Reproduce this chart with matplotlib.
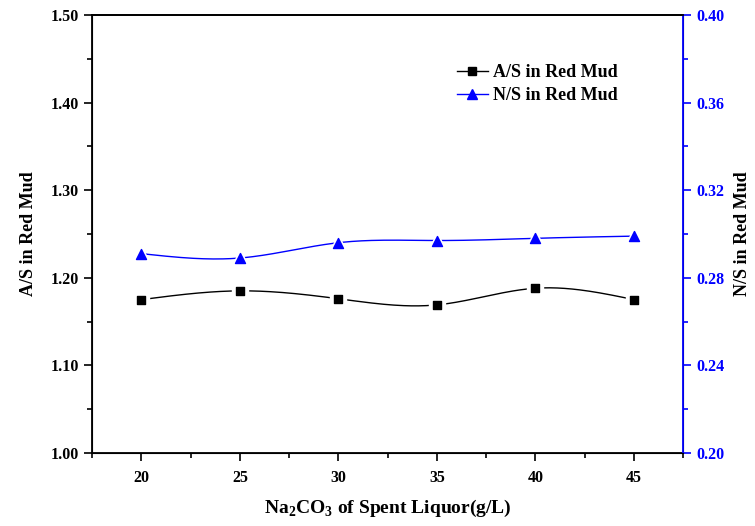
import numpy as np
import matplotlib
matplotlib.use("Agg")
import matplotlib.pyplot as plt
from matplotlib.ticker import MultipleLocator, FormatStrFormatter
from matplotlib.lines import Line2D

x_vals = [20, 25, 30, 35, 40, 45]
as_vals = [1.175, 1.185, 1.176, 1.169, 1.188, 1.175]
ns_vals = [0.291, 0.289, 0.296, 0.297, 0.298, 0.299]

plt.rcParams['font.family'] = ['Liberation Serif', 'DejaVu Serif']
plt.rcParams['font.weight'] = 'bold'
plt.rcParams['mathtext.fontset'] = 'custom'
plt.rcParams['mathtext.rm'] = 'Liberation Serif:bold'
plt.rcParams['mathtext.bf'] = 'Liberation Serif:bold'


def natural_spline(x, y, n=200):
    x = np.asarray(x, float); y = np.asarray(y, float)
    m = len(x)
    h = np.diff(x)
    A = np.zeros((m, m)); b = np.zeros(m)
    A[0, 0] = 1; A[-1, -1] = 1
    for i in range(1, m - 1):
        A[i, i - 1] = h[i - 1]; A[i, i] = 2 * (h[i - 1] + h[i]); A[i, i + 1] = h[i]
        b[i] = 3 * ((y[i + 1] - y[i]) / h[i] - (y[i] - y[i - 1]) / h[i - 1])
    c = np.linalg.solve(A, b)
    xs = np.linspace(x[0], x[-1], n)
    ys = np.empty_like(xs)
    for k, xv in enumerate(xs):
        i = min(np.searchsorted(x, xv, side='right') - 1, m - 2)
        dx = xv - x[i]
        bi = (y[i + 1] - y[i]) / h[i] - h[i] * (c[i + 1] + 2 * c[i]) / 3
        di = (c[i + 1] - c[i]) / (3 * h[i])
        ys[k] = y[i] + bi * dx + c[i] * dx ** 2 + di * dx ** 3
    return xs, ys


fig = plt.figure(figsize=(7.55, 5.26), dpi=100)
ax = fig.add_axes([0.122, 0.139, 0.783, 0.8325])
ax2 = ax.twinx()

xs, ys = natural_spline(x_vals, as_vals)
ax.plot(xs, ys, color='black', lw=1.0, zorder=2)
ax.scatter(x_vals, as_vals, s=130, marker='s', color='white', zorder=3)
ax.scatter(x_vals, as_vals, s=36, marker='s', color='black', zorder=4)

xs2, ys2 = natural_spline(x_vals, ns_vals)
ax2.plot(xs2, ys2, color='blue', lw=1.0, zorder=2)
ax2.scatter(x_vals, ns_vals, s=150, marker='^', color='white', zorder=3)
ax2.scatter(x_vals, ns_vals, s=52, marker='^', color='blue', zorder=4)

ax.set_xlim(17.5, 47.5)
ax.set_ylim(1.00, 1.50)
ax2.set_ylim(0.20, 0.40)

ax.xaxis.set_major_locator(MultipleLocator(5))
ax.xaxis.set_minor_locator(MultipleLocator(2.5))
ax.yaxis.set_major_locator(MultipleLocator(0.1))
ax.yaxis.set_minor_locator(MultipleLocator(0.05))
ax.yaxis.set_major_formatter(FormatStrFormatter('%.2f'))
ax2.yaxis.set_major_locator(MultipleLocator(0.04))
ax2.yaxis.set_minor_locator(MultipleLocator(0.02))
ax2.yaxis.set_major_formatter(FormatStrFormatter('%.2f'))

ax.tick_params(which='major', direction='out', length=6, width=1.2, labelsize=11.5)
ax.tick_params(which='minor', direction='out', length=3.5, width=1.2)
ax.tick_params(axis='x', which='major', pad=6)
ax2.tick_params(which='major', direction='out', length=6, width=1.2, labelsize=11.5,
                colors='blue')
ax2.tick_params(which='minor', direction='out', length=3.5, width=1.2, colors='blue')

for sp in ['left', 'top', 'bottom']:
    ax.spines[sp].set_linewidth(1.3)
ax2.spines['right'].set_color('blue')
ax2.spines['right'].set_linewidth(1.3)
ax2.spines['top'].set_linewidth(1.3)

for lab in ax.get_xticklabels() + ax.get_yticklabels() + ax2.get_yticklabels():
    lab.set_fontweight('bold')

ax.set_ylabel('A/S in Red Mud', fontsize=13, fontweight='bold', labelpad=10)
ax2.set_ylabel('N/S in Red Mud', fontsize=13, fontweight='bold', labelpad=7,
               rotation=90)
ax.set_xlabel(r'Na$_\mathbf{2}$CO$_\mathbf{3}$ of Spent Liquor(g/L)', fontsize=14,
              fontweight='bold', labelpad=9)

handles = [
    Line2D([0], [0], color='black', lw=1.0, marker='s', markersize=6),
    Line2D([0], [0], color='blue', lw=1.0, marker='^', markersize=7),
]
leg = ax.legend(handles, ['A/S in Red Mud', 'N/S in Red Mud'], loc='upper left',
                bbox_to_anchor=(0.59, 0.925), frameon=False,
                handlelength=1.7, handletextpad=0.3, labelspacing=0.35,
                prop={'weight': 'bold', 'size': 13})

fig.savefig('out.png', dpi=100)
